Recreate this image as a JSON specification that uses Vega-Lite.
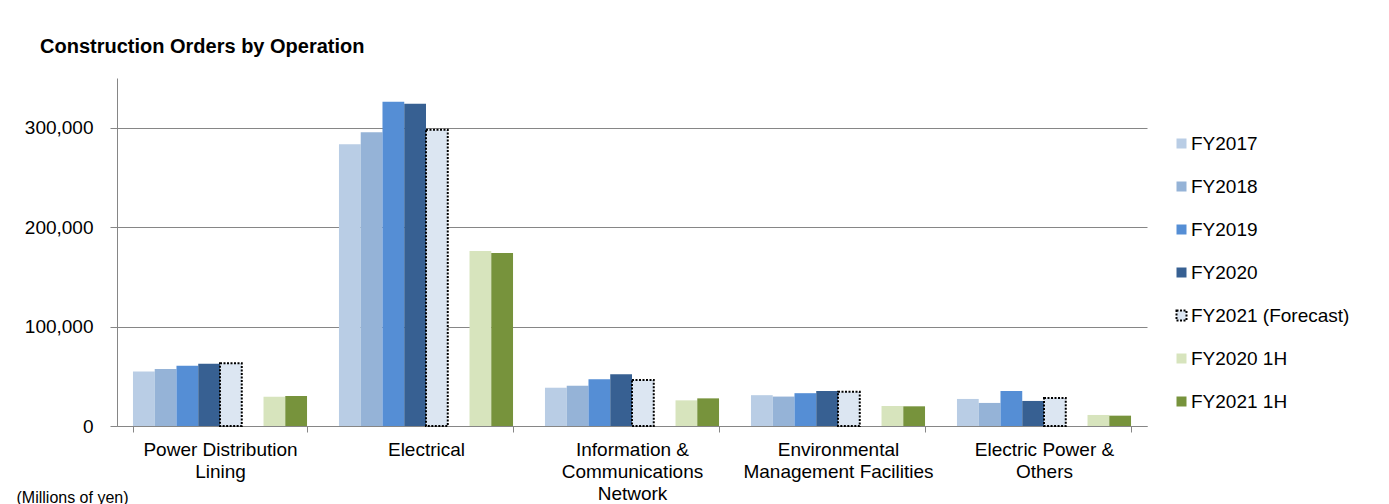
{
  "$schema": "https://vega.github.io/schema/vega-lite/v6.json",
  "autosize": "none",
  "width": 1030,
  "height": 348,
  "padding": {"left": 117, "top": 78, "right": 242, "bottom": 78},
  "background": "white",
  "title": {
    "text": "Construction Orders by Operation",
    "anchor": "start",
    "frame": "group",
    "orient": "top",
    "dx": -77,
    "dy": 20,
    "offset": 25,
    "baseline": "alphabetic",
    "font": "Liberation Sans",
    "fontSize": 20,
    "fontWeight": "bold",
    "color": "black"
  },
  "config": {
    "view": {"stroke": null},
    "font": "Liberation Sans",
    "axis": {
      "domainColor": "#868686",
      "tickColor": "#868686",
      "gridColor": "#868686",
      "labelColor": "black",
      "labelFont": "Liberation Sans",
      "titleFont": "Liberation Sans"
    }
  },
  "data": {
    "values": [
      {"cat": "Power Distribution|Lining", "series": "FY2017", "value": 54800},
      {"cat": "Power Distribution|Lining", "series": "FY2018", "value": 57300},
      {"cat": "Power Distribution|Lining", "series": "FY2019", "value": 60700},
      {"cat": "Power Distribution|Lining", "series": "FY2020", "value": 62700},
      {"cat": "Power Distribution|Lining", "series": "FY2021 (Forecast)", "value": 63000},
      {"cat": "Power Distribution|Lining", "series": "FY2020 1H", "value": 29500},
      {"cat": "Power Distribution|Lining", "series": "FY2021 1H", "value": 30200},
      {"cat": "Electrical", "series": "FY2017", "value": 283400},
      {"cat": "Electrical", "series": "FY2018", "value": 295400},
      {"cat": "Electrical", "series": "FY2019", "value": 326000},
      {"cat": "Electrical", "series": "FY2020", "value": 324000},
      {"cat": "Electrical", "series": "FY2021 (Forecast)", "value": 298000},
      {"cat": "Electrical", "series": "FY2020 1H", "value": 176000},
      {"cat": "Electrical", "series": "FY2021 1H", "value": 174000},
      {"cat": "Information &|Communications|Network", "series": "FY2017", "value": 38500},
      {"cat": "Information &|Communications|Network", "series": "FY2018", "value": 40500},
      {"cat": "Information &|Communications|Network", "series": "FY2019", "value": 47000},
      {"cat": "Information &|Communications|Network", "series": "FY2020", "value": 52000},
      {"cat": "Information &|Communications|Network", "series": "FY2021 (Forecast)", "value": 46300},
      {"cat": "Information &|Communications|Network", "series": "FY2020 1H", "value": 25800},
      {"cat": "Information &|Communications|Network", "series": "FY2021 1H", "value": 27800},
      {"cat": "Environmental|Management Facilities", "series": "FY2017", "value": 31000},
      {"cat": "Environmental|Management Facilities", "series": "FY2018", "value": 29600},
      {"cat": "Environmental|Management Facilities", "series": "FY2019", "value": 33000},
      {"cat": "Environmental|Management Facilities", "series": "FY2020", "value": 35200},
      {"cat": "Environmental|Management Facilities", "series": "FY2021 (Forecast)", "value": 34500},
      {"cat": "Environmental|Management Facilities", "series": "FY2020 1H", "value": 20100},
      {"cat": "Environmental|Management Facilities", "series": "FY2021 1H", "value": 19800},
      {"cat": "Electric Power &|Others", "series": "FY2017", "value": 27200},
      {"cat": "Electric Power &|Others", "series": "FY2018", "value": 23200},
      {"cat": "Electric Power &|Others", "series": "FY2019", "value": 35200},
      {"cat": "Electric Power &|Others", "series": "FY2020", "value": 25200},
      {"cat": "Electric Power &|Others", "series": "FY2021 (Forecast)", "value": 28200},
      {"cat": "Electric Power &|Others", "series": "FY2020 1H", "value": 11100},
      {"cat": "Electric Power &|Others", "series": "FY2021 1H", "value": 10400}
    ]
  },
  "mark": {"type": "bar", "strokeWidth": 2},
  "encoding": {
    "x": {
      "field": "cat",
      "type": "nominal",
      "sort": null,
      "scale": {"paddingInner": 0.155, "paddingOuter": 0.0775},
      "axis": {
        "title": null,
        "labelAngle": 0,
        "labelExpr": "datum.value ? split(datum.value, '|') : ''",
        "labelFontSize": 19,
        "labelLineHeight": 22,
        "labelPadding": 8,
        "labelLimit": 400,
        "tickBand": "extent",
        "tickSize": 6,
        "domainColor": "#868686"
      }
    },
    "xOffset": {
      "field": "series",
      "type": "nominal",
      "scale": {
        "domain": ["FY2017", "FY2018", "FY2019", "FY2020", "FY2021 (Forecast)", "_gap", "FY2020 1H", "FY2021 1H"],
        "paddingInner": 0,
        "paddingOuter": 0
      }
    },
    "y": {
      "field": "value",
      "type": "quantitative",
      "scale": {"domain": [0, 350000], "nice": false},
      "axis": {
        "values": [0, 100000, 200000, 300000],
        "format": ",d",
        "labelFontSize": 19,
        "labelPadding": 17,
        "tickSize": 7,
        "title": "(Millions of yen)",
        "titleAngle": 0,
        "titleX": -101,
        "titleY": 419,
        "titleAlign": "left",
        "titleBaseline": "middle",
        "titleFontSize": 16,
        "titleFontWeight": "normal",
        "titleColor": "black"
      }
    },
    "color": {
      "field": "series",
      "type": "nominal",
      "scale": {
        "domain": ["FY2017", "FY2018", "FY2019", "FY2020", "FY2021 (Forecast)", "FY2020 1H", "FY2021 1H"],
        "range": ["#B9CDE5", "#95B3D7", "#558ED5", "#376092", "#DCE6F2", "#D7E4BD", "#77933C"]
      },
      "legend": {
        "title": null,
        "orient": "none",
        "legendX": 1055,
        "legendY": 56,
        "symbolType": "square",
        "symbolSize": 100,
        "symbolStrokeWidth": 2,
        "labelFontSize": 19,
        "labelColor": "black",
        "labelFont": "Liberation Sans",
        "labelOffset": 0,
        "rowPadding": 23,
        "labelLimit": 300
      }
    },
    "stroke": {
      "field": "series",
      "type": "nominal",
      "scale": {
        "domain": ["FY2017", "FY2018", "FY2019", "FY2020", "FY2021 (Forecast)", "FY2020 1H", "FY2021 1H"],
        "range": ["transparent", "transparent", "transparent", "transparent", "black", "transparent", "transparent"]
      },
      "legend": {"title": null}
    },
    "strokeDash": {
      "field": "series",
      "type": "nominal",
      "scale": {
        "domain": ["FY2017", "FY2018", "FY2019", "FY2020", "FY2021 (Forecast)", "FY2020 1H", "FY2021 1H"],
        "range": [[1, 0], [1, 0], [1, 0], [1, 0], [2, 1.5], [1, 0], [1, 0]]
      },
      "legend": {"title": null}
    }
  }
}
